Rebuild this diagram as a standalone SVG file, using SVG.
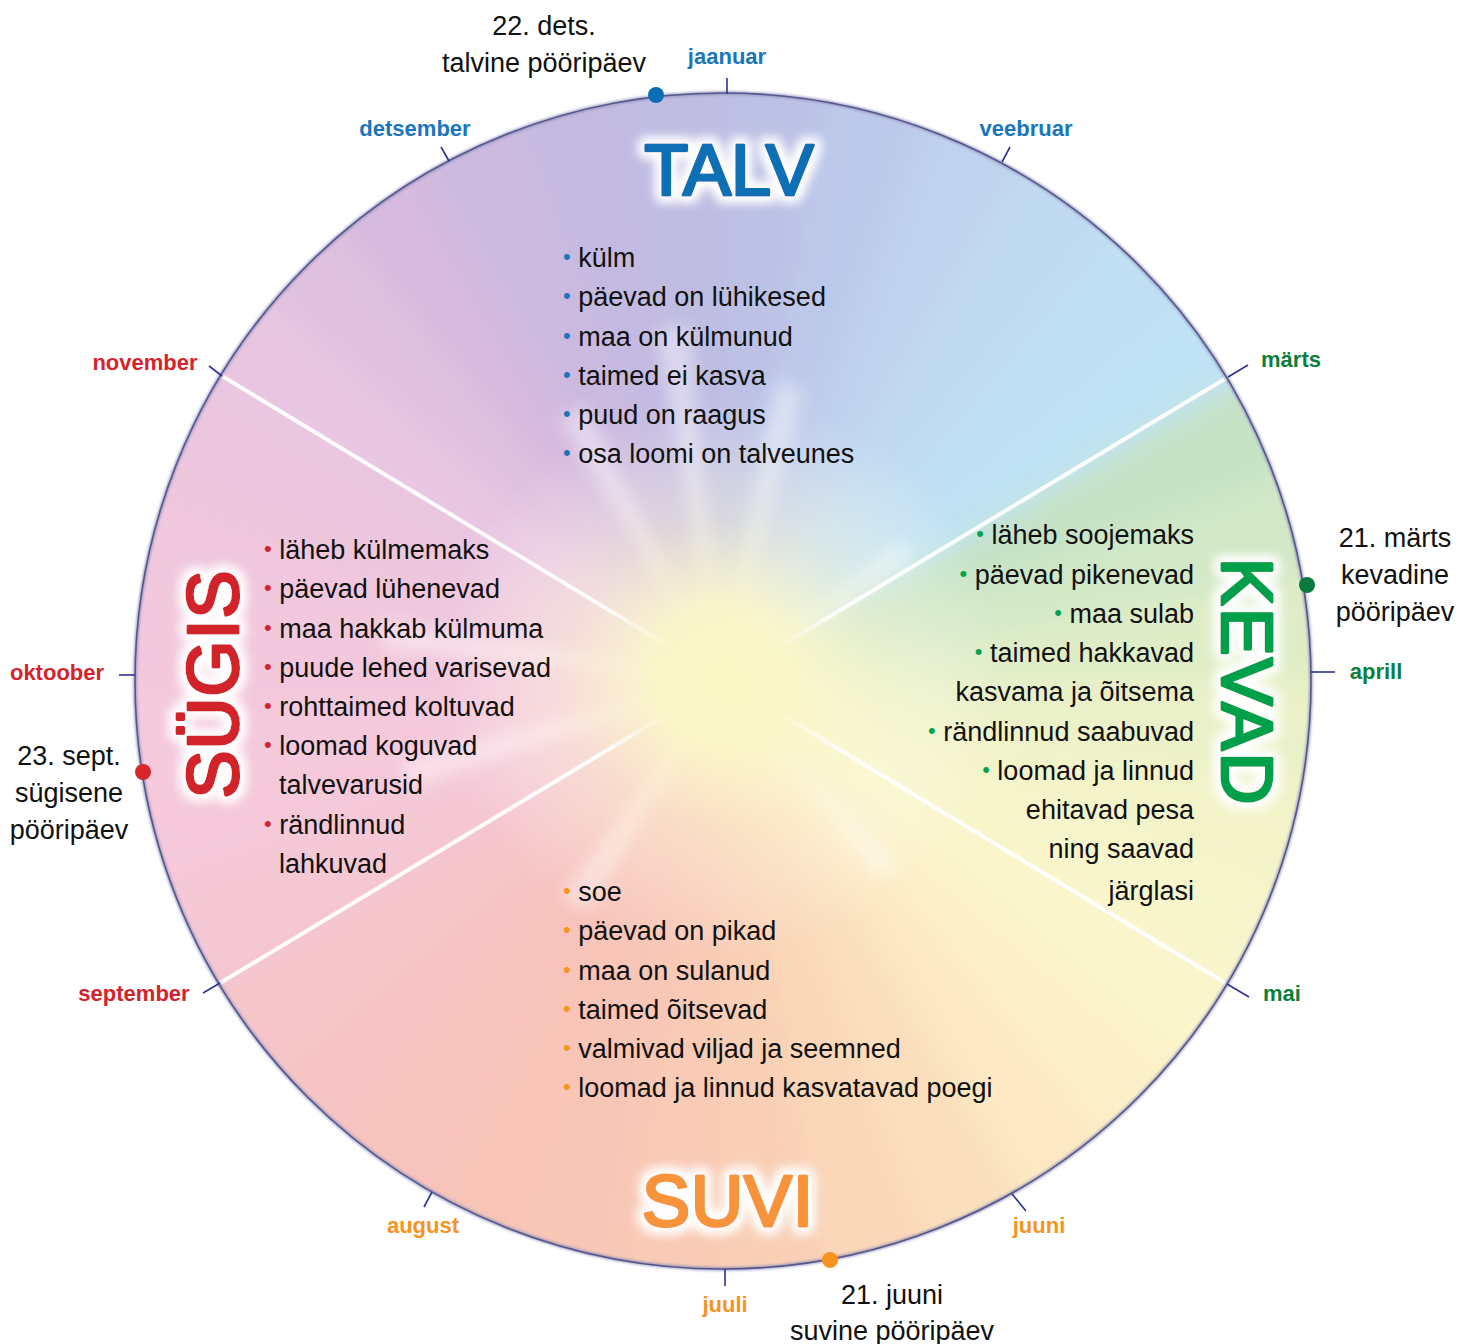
<svg xmlns="http://www.w3.org/2000/svg" width="1472" height="1344" viewBox="0 0 1472 1344">
  <style>
    text { font-family: "Liberation Sans", Arial, sans-serif; }
    .t { font-size: 27px; fill: #111; }
    .mid { text-anchor: middle; }
    .end { text-anchor: end; }
    .m { font-size: 22px; font-weight: bold; text-anchor: middle; }
    .mb { fill: #1a75bc; }
    .mg { fill: #0b7f3e; }
    .mo { fill: #f7931e; }
    .mr { fill: #d5232b; }
    .bul { font-size: 22px; }
    .bb { fill: #1a75bc; }
    .bg { fill: #0aa14b; }
    .bo { fill: #f7931e; }
    .br { fill: #d5232b; }
    .title { font-size: 72px; stroke-width: 3.2; stroke-linejoin: round; stroke-linecap: round; text-anchor: middle; }
    .tick { stroke: #2e3192; stroke-width: 1.6; fill: none; }
  </style>
  <defs>
    <clipPath id="disc"><circle cx="723" cy="681" r="588"/></clipPath>
    <filter id="soft" x="-10%" y="-10%" width="120%" height="120%">
      <feGaussianBlur stdDeviation="14"/>
    </filter>
    <filter id="rayBlur" x="-50%" y="-50%" width="200%" height="200%">
      <feGaussianBlur stdDeviation="8"/>
    </filter>
    <filter id="edge" x="-5%" y="-5%" width="110%" height="110%">
      <feGaussianBlur stdDeviation="1.2"/>
    </filter>
    <filter id="glow" x="-30%" y="-40%" width="160%" height="180%">
      <feMorphology in="SourceAlpha" operator="dilate" radius="4" result="d"/>
      <feGaussianBlur in="d" stdDeviation="6" result="b"/>
      <feFlood flood-color="#ffffff"/>
      <feComposite in2="b" operator="in" result="g"/>
      <feMerge><feMergeNode in="g"/><feMergeNode in="g"/><feMergeNode in="SourceGraphic"/></feMerge>
    </filter>
    <radialGradient id="sun" cx="722" cy="675" r="280" gradientUnits="userSpaceOnUse">
      <stop offset="0" stop-color="#fbf8c6" stop-opacity="1"/>
      <stop offset="0.25" stop-color="#fbf7c8" stop-opacity="0.95"/>
      <stop offset="0.55" stop-color="#fcf8d6" stop-opacity="0.45"/>
      <stop offset="1" stop-color="#ffffff" stop-opacity="0"/>
    </radialGradient>
    <radialGradient id="fade" cx="722" cy="680" r="260" gradientUnits="userSpaceOnUse">
      <stop offset="0" stop-color="#000"/>
      <stop offset="0.22" stop-color="#000"/>
      <stop offset="0.55" stop-color="#fff"/>
      <stop offset="1" stop-color="#fff"/>
    </radialGradient>
    <mask id="lineMask" maskUnits="userSpaceOnUse" x="0" y="0" width="1472" height="1344">
      <rect x="0" y="0" width="1472" height="1344" fill="url(#fade)"/>
    </mask>
  </defs>

  <!-- colour wheel background -->
  <g id="wheel" clip-path="url(#disc)">
    <g filter="url(#soft)">
      <!-- spring -->
      <path d="M722,680 L1276.3,360 L1323.4,461.1 Z" fill="#c6e3c6"/>
      <path d="M722,680 L1323.4,461.1 L1352.3,568.9 Z" fill="#d2e8c6"/>
      <path d="M722,680 L1352.3,568.9 L1362,680 Z" fill="#dfedc7"/>
      <path d="M722,680 L1362,680 L1352.3,791.1 Z" fill="#eaf1c8"/>
      <path d="M722,680 L1352.3,791.1 L1323.4,898.9 Z" fill="#f2f3c9"/>
      <path d="M722,680 L1323.4,898.9 L1276.3,1000 Z" fill="#f7f5cb"/>
      <!-- summer -->
      <path d="M722,680 L1276.3,1000 L1212.3,1091.4 Z" fill="#fbf5cc"/>
      <path d="M722,680 L1212.3,1091.4 L1133.4,1170.3 Z" fill="#fcf0c8"/>
      <path d="M722,680 L1133.4,1170.3 L1042,1234.3 Z" fill="#fce8c3"/>
      <path d="M722,680 L1042,1234.3 L940.9,1281.4 Z" fill="#fbdfbd"/>
      <path d="M722,680 L940.9,1281.4 L833.1,1310.3 Z" fill="#fad7b8"/>
      <path d="M722,680 L833.1,1310.3 L722,1320 Z" fill="#f9d0b6"/>
      <path d="M722,680 L722,1320 L610.9,1310.3 Z" fill="#f9cab5"/>
      <path d="M722,680 L610.9,1310.3 L503.1,1281.4 Z" fill="#f8c6b6"/>
      <path d="M722,680 L503.1,1281.4 L402,1234.3 Z" fill="#f8c4b8"/>
      <path d="M722,680 L402,1234.3 L310.6,1170.3 Z" fill="#f7c3bd"/>
      <path d="M722,680 L310.6,1170.3 L231.7,1091.4 Z" fill="#f6c4c4"/>
      <path d="M722,680 L231.7,1091.4 L167.7,1000 Z" fill="#f5c5cc"/>
      <!-- autumn -->
      <path d="M722,680 L167.7,1000 L120.6,898.9 Z" fill="#f5c8d6"/>
      <path d="M722,680 L120.6,898.9 L91.7,791.1 Z" fill="#f5c9da"/>
      <path d="M722,680 L91.7,791.1 L82,680 Z" fill="#f4c9dc"/>
      <path d="M722,680 L82,680 L91.7,568.9 Z" fill="#f3c8dc"/>
      <path d="M722,680 L91.7,568.9 L120.6,461.1 Z" fill="#f0c7dd"/>
      <path d="M722,680 L120.6,461.1 L167.7,360 Z" fill="#ecc6de"/>
      <!-- winter -->
      <path d="M722,680 L167.7,360 L231.7,268.6 Z" fill="#e8c6e2"/>
      <path d="M722,680 L231.7,268.6 L310.6,189.7 Z" fill="#dfc0df"/>
      <path d="M722,680 L310.6,189.7 L402,125.7 Z" fill="#d6badf"/>
      <path d="M722,680 L402,125.7 L503.1,78.6 Z" fill="#ccb9e0"/>
      <path d="M722,680 L503.1,78.6 L610.9,49.7 Z" fill="#c4bae1"/>
      <path d="M722,680 L610.9,49.7 L722,40 Z" fill="#bfbce2"/>
      <path d="M722,680 L722,40 L833.1,49.7 Z" fill="#bcc1e5"/>
      <path d="M722,680 L833.1,49.7 L940.9,78.6 Z" fill="#bdc9ea"/>
      <path d="M722,680 L940.9,78.6 L1042,125.7 Z" fill="#bfd2ee"/>
      <path d="M722,680 L1042,125.7 L1133.4,189.7 Z" fill="#c0daf1"/>
      <path d="M722,680 L1133.4,189.7 L1212.3,268.6 Z" fill="#c0dff3"/>
      <path d="M722,680 L1212.3,268.6 L1276.3,360 Z" fill="#bfe2f4"/>
    </g>
    <!-- light rays from the centre -->
    <g filter="url(#rayBlur)" fill="#ffffff" opacity="0.4">
      <path d="M722,680 L655,330 L690,325 Z"/>
      <path d="M722,680 L560,420 L585,405 Z"/>
      <path d="M722,680 L775,380 L805,390 Z"/>
      <path d="M722,680 L380,620 L385,650 Z"/>
      <path d="M722,680 L400,760 L410,790 Z"/>
      <path d="M722,680 L900,540 L915,560 Z"/>
      <path d="M722,680 L560,900 L590,910 Z"/>
      <path d="M722,680 L880,880 L900,865 Z"/>
    </g>
    <!-- sun glow -->
    <circle cx="722" cy="675" r="280" fill="url(#sun)"/>
    <!-- season dividers -->
    <g mask="url(#lineMask)" stroke="#ffffff" stroke-width="4" opacity="0.95">
      <line x1="222" y1="376" x2="1227" y2="984"/>
      <line x1="1228" y1="377" x2="220" y2="983"/>
    </g>
  </g>

  <!-- rim -->
  <circle cx="723" cy="681" r="588" fill="none" stroke="#8a8cb8" stroke-width="4" filter="url(#edge)" opacity="0.7"/>
  <circle cx="723" cy="681" r="588" fill="none" stroke="#55578c" stroke-width="1.6"/>

  <!-- month ticks and solstice markers -->
  <g id="connectors">
    <line class="tick" x1="727" y1="78" x2="727" y2="94"/>
    <line class="tick" x1="1010" y1="147" x2="1002" y2="162"/>
    <line class="tick" x1="1248" y1="365" x2="1228" y2="377"/>
    <line class="tick" x1="1335" y1="672" x2="1311" y2="672"/>
    <line class="tick" x1="1249" y1="997" x2="1227" y2="984"/>
    <line class="tick" x1="1026" y1="1211" x2="1012" y2="1194"/>
    <line class="tick" x1="725" y1="1286" x2="725" y2="1269"/>
    <line class="tick" x1="424" y1="1207" x2="432" y2="1192"/>
    <line class="tick" x1="203" y1="993" x2="220" y2="983"/>
    <line class="tick" x1="119" y1="675" x2="135" y2="675"/>
    <line class="tick" x1="209" y1="366" x2="222" y2="376"/>
    <line class="tick" x1="441" y1="147" x2="449" y2="161"/>
  </g>

  <g id="markers">
    <circle cx="656" cy="95" r="8" fill="#0b6db5"/>
    <circle cx="1307" cy="585" r="8" fill="#0a7a3e"/>
    <circle cx="143" cy="772" r="8" fill="#d7262e"/>
    <circle cx="830" cy="1260" r="8" fill="#f7941d"/>
  </g>

  <!-- month names -->
  <g id="months">
    <text class="m mb" x="727" y="64">jaanuar</text>
    <text class="m mb" x="1026" y="136">veebruar</text>
    <text class="m mg" x="1291" y="367">märts</text>
    <text class="m mg" x="1376" y="679">aprill</text>
    <text class="m mg" x="1282" y="1001">mai</text>
    <text class="m mo" x="1039" y="1233">juuni</text>
    <text class="m mo" x="725" y="1312">juuli</text>
    <text class="m mo" x="423" y="1233">august</text>
    <text class="m mr" x="134" y="1001">september</text>
    <text class="m mr" x="57" y="680">oktoober</text>
    <text class="m mr" x="145" y="370">november</text>
    <text class="m mb" x="415" y="136">detsember</text>
  </g>

  <!-- solstice / equinox dates -->
  <g id="dates">
    <text class="t mid" x="544" y="35">22. dets.</text>
    <text class="t mid" x="544" y="72">talvine pööripäev</text>
    <text class="t mid" x="1395" y="547">21. märts</text>
    <text class="t mid" x="1395" y="584">kevadine</text>
    <text class="t mid" x="1395" y="621">pööripäev</text>
    <text class="t mid" x="69" y="765">23. sept.</text>
    <text class="t mid" x="69" y="802">sügisene</text>
    <text class="t mid" x="69" y="839">pööripäev</text>
    <text class="t mid" x="892" y="1304">21. juuni</text>
    <text class="t mid" x="892" y="1340">suvine pööripäev</text>
  </g>

  <!-- winter -->
  <g id="talv">
    <text class="title" x="729" y="195" fill="#0a6fb5" stroke="#0a6fb5" filter="url(#glow)">TALV</text>
    <text class="t" x="563" y="267"><tspan class="bul bb" dy="-3">•</tspan><tspan dy="3"> külm</tspan></text>
    <text class="t" x="563" y="306"><tspan class="bul bb" dy="-3">•</tspan><tspan dy="3"> päevad on lühikesed</tspan></text>
    <text class="t" x="563" y="346"><tspan class="bul bb" dy="-3">•</tspan><tspan dy="3"> maa on külmunud</tspan></text>
    <text class="t" x="563" y="385"><tspan class="bul bb" dy="-3">•</tspan><tspan dy="3"> taimed ei kasva</tspan></text>
    <text class="t" x="563" y="424"><tspan class="bul bb" dy="-3">•</tspan><tspan dy="3"> puud on raagus</tspan></text>
    <text class="t" x="563" y="463"><tspan class="bul bb" dy="-3">•</tspan><tspan dy="3"> osa loomi on talveunes</tspan></text>
  </g>

  <!-- spring -->
  <g id="kevad">
    <text class="title" transform="translate(1222,682) rotate(90)" x="0" y="0" letter-spacing="2" fill="#00a04b" stroke="#00a04b" filter="url(#glow)">KEVAD</text>
    <text class="t end" x="1194" y="544"><tspan class="bul bg" dy="-3">•</tspan><tspan dy="3"> läheb soojemaks</tspan></text>
    <text class="t end" x="1194" y="584"><tspan class="bul bg" dy="-3">•</tspan><tspan dy="3"> päevad pikenevad</tspan></text>
    <text class="t end" x="1194" y="623"><tspan class="bul bg" dy="-3">•</tspan><tspan dy="3"> maa sulab</tspan></text>
    <text class="t end" x="1194" y="662"><tspan class="bul bg" dy="-3">•</tspan><tspan dy="3"> taimed hakkavad</tspan></text>
    <text class="t end" x="1194" y="701">kasvama ja õitsema</text>
    <text class="t end" x="1194" y="741"><tspan class="bul bg" dy="-3">•</tspan><tspan dy="3"> rändlinnud saabuvad</tspan></text>
    <text class="t end" x="1194" y="780"><tspan class="bul bg" dy="-3">•</tspan><tspan dy="3"> loomad ja linnud</tspan></text>
    <text class="t end" x="1194" y="819">ehitavad pesa</text>
    <text class="t end" x="1194" y="858">ning saavad</text>
    <text class="t end" x="1194" y="900">järglasi</text>
  </g>

  <!-- summer -->
  <g id="suvi">
    <text class="title" x="728" y="1226" letter-spacing="1" fill="#f7943a" stroke="#f7943a" filter="url(#glow)">SUVI</text>
    <text class="t" x="563" y="901"><tspan class="bul bo" dy="-3">•</tspan><tspan dy="3"> soe</tspan></text>
    <text class="t" x="563" y="940"><tspan class="bul bo" dy="-3">•</tspan><tspan dy="3"> päevad on pikad</tspan></text>
    <text class="t" x="563" y="980"><tspan class="bul bo" dy="-3">•</tspan><tspan dy="3"> maa on sulanud</tspan></text>
    <text class="t" x="563" y="1019"><tspan class="bul bo" dy="-3">•</tspan><tspan dy="3"> taimed õitsevad</tspan></text>
    <text class="t" x="563" y="1058"><tspan class="bul bo" dy="-3">•</tspan><tspan dy="3"> valmivad viljad ja seemned</tspan></text>
    <text class="t" x="563" y="1097"><tspan class="bul bo" dy="-3">•</tspan><tspan dy="3"> loomad ja linnud kasvatavad poegi</tspan></text>
  </g>

  <!-- autumn -->
  <g id="sugis">
    <text class="title" transform="translate(238,684) rotate(-90)" x="0" y="0" letter-spacing="1" fill="#d2232a" stroke="#d2232a" filter="url(#glow)">SÜGIS</text>
    <text class="t" x="264" y="559"><tspan class="bul br" dy="-3">•</tspan><tspan dy="3"> läheb külmemaks</tspan></text>
    <text class="t" x="264" y="598"><tspan class="bul br" dy="-3">•</tspan><tspan dy="3"> päevad lühenevad</tspan></text>
    <text class="t" x="264" y="638"><tspan class="bul br" dy="-3">•</tspan><tspan dy="3"> maa hakkab külmuma</tspan></text>
    <text class="t" x="264" y="677"><tspan class="bul br" dy="-3">•</tspan><tspan dy="3"> puude lehed varisevad</tspan></text>
    <text class="t" x="264" y="716"><tspan class="bul br" dy="-3">•</tspan><tspan dy="3"> rohttaimed koltuvad</tspan></text>
    <text class="t" x="264" y="755"><tspan class="bul br" dy="-3">•</tspan><tspan dy="3"> loomad koguvad</tspan></text>
    <text class="t" x="279" y="794">talvevarusid</text>
    <text class="t" x="264" y="834"><tspan class="bul br" dy="-3">•</tspan><tspan dy="3"> rändlinnud</tspan></text>
    <text class="t" x="279" y="873">lahkuvad</text>
  </g>
</svg>
